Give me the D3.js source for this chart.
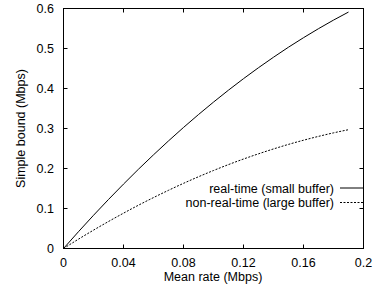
<!DOCTYPE html>
<html><head><meta charset="utf-8">
<script src="https://cdn.jsdelivr.net/npm/d3@7"></script>
<style>body{margin:0;background:#fff}svg{display:block}text{font-family:"Liberation Sans",Arial,sans-serif;font-size:12.5px;fill:#000}</style>
</head><body><svg id="c" width="375" height="288"></svg>
<script>
const meanRate = [0,0.01,0.02,0.03,0.04,0.05,0.06,0.07,0.08,0.09,0.10,0.11,0.12,0.13,0.14,0.15,0.16,0.17,0.18,0.19];
const realTime = [0,0.0421,0.0830,0.1226,0.1610,0.1983,0.2342,0.2690,0.3026,0.3349,0.3660,0.3959,0.4246,0.4520,0.4782,0.5033,0.5270,0.5496,0.5710,0.5911];
const nonRealTime = [0,0.0234,0.0459,0.0675,0.0883,0.1083,0.1273,0.1455,0.1629,0.1794,0.1950,0.2098,0.2237,0.2367,0.2489,0.2603,0.2707,0.2803,0.2891,0.2970];
const xTicks = [0,0.04,0.08,0.12,0.16,0.2];
const xTickLabels = ["0","0.04","0.08","0.12","0.16","0.2"];
const yTicks = [0,0.1,0.2,0.3,0.4,0.5,0.6];
const yTickLabels = ["0","0.1","0.2","0.3","0.4","0.5","0.6"];
const seriesNames = ["real-time (small buffer)","non-real-time (large buffer)"];

const svg = d3.select("#c");
const L=63.5,R=363.5,T=8.5,B=248.5;
const x = d3.scaleLinear().domain([0,0.2]).range([L,R]);
const y = d3.scaleLinear().domain([0,0.6]).range([B,T]);
const tl=4;

const g = svg.append("g").attr("stroke","#000").attr("stroke-width",1);
xTicks.forEach(v=>{
  g.append("line").attr("x1",x(v)).attr("x2",x(v)).attr("y1",B).attr("y2",B-tl);
  g.append("line").attr("x1",x(v)).attr("x2",x(v)).attr("y1",T).attr("y2",T+tl);
});
yTicks.forEach(v=>{
  g.append("line").attr("x1",L).attr("x2",L+tl).attr("y1",y(v)).attr("y2",y(v));
  g.append("line").attr("x1",R).attr("x2",R-tl).attr("y1",y(v)).attr("y2",y(v));
});
svg.append("rect").attr("x",L).attr("y",T).attr("width",R-L).attr("height",B-T)
  .attr("fill","none").attr("stroke","#000").attr("stroke-width",1);

xTicks.forEach((v,i)=>svg.append("text").attr("x",x(v)).attr("y",267).attr("text-anchor","middle").text(xTickLabels[i]));
yTicks.forEach((v,i)=>svg.append("text").attr("x",54).attr("y",y(v)+4.5).attr("text-anchor","end").text(yTickLabels[i]));

svg.append("text").attr("x",213).attr("y",280.5).attr("text-anchor","middle").text("Mean rate (Mbps)");
svg.append("text").attr("transform","translate(24.5,128.5) rotate(-90)").attr("text-anchor","middle").text("Simple bound (Mbps)");

const line = d3.line().x(d=>x(d[0])).y(d=>y(d[1])).curve(d3.curveMonotoneX);
const s1 = meanRate.map((v,i)=>[v,realTime[i]]);
const s2 = meanRate.map((v,i)=>[v,nonRealTime[i]]);
svg.append("path").attr("d",line(s1)).attr("fill","none").attr("stroke","#000").attr("stroke-width",1);
svg.append("path").attr("d",line(s2)).attr("fill","none").attr("stroke","#000").attr("stroke-width",1).attr("stroke-dasharray","2,1.5");

[0,1].forEach(i=>{
  const yy = 188 + i*14.5;
  svg.append("text").attr("x",334).attr("y",yy+4.5).attr("text-anchor","end").text(seriesNames[i]);
  svg.append("line").attr("x1",340).attr("x2",363).attr("y1",yy).attr("y2",yy)
    .attr("stroke","#000").attr("stroke-width",1).attr("stroke-dasharray",i?"2,1.5":null);
});
</script></body></html>
